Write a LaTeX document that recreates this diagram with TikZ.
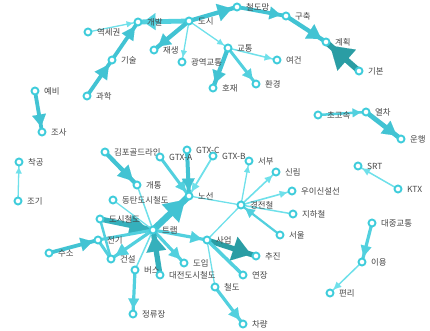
\documentclass[tikz,border=0pt]{standalone}
\usepackage{fontspec}
\newfontfamily\kr{Noto Sans CJK KR}
\usetikzlibrary{arrows.meta,decorations.markings,backgrounds}
\definecolor{c1}{HTML}{6FE0EA}
\definecolor{c2}{HTML}{52D0DE}
\definecolor{c3}{HTML}{42C3D3}
\definecolor{c4}{HTML}{2A9DA4}
\definecolor{c5}{HTML}{35B0BC}
\definecolor{cc}{HTML}{3FCCDB}
\definecolor{txt}{HTML}{444444}
\begin{document}
\begin{tikzpicture}[x=1pt,y=-1pt,
  v/.style={circle, draw=cc, fill=white, line width=1.9pt, minimum size=7pt, inner sep=0pt},
  lbl/.style={font=\kr\fontsize{8.4}{10}\selectfont, text=txt, inner sep=0pt},
  every label/.style={lbl},
  label distance=4.5pt,
  e/.style n args={4}{draw=#1, line width=#2, postaction={decorate},
    decoration={markings, mark=at position -5.5pt with {\arrow[#1, line width=0.01pt]{Triangle[length=#3, width=#4]}}}},
  pl/.style n args={2}{draw=#1, line width=#2}]
\useasboundingbox (0,0) rectangle (430,331);
% nodes
\node[v, label=right:역세권] (yeok) at (88,32) {};
\node[v, label=right:개발] (gaebal) at (138,22) {};
\node[v, label=right:도시] (dosi) at (189,21) {};
\node[v, label=right:재생] (jaesaeng) at (154,50) {};
\node[v, label=right:광역교통] (gwangyeok) at (182,62) {};
\node[v, label=right:기술] (gisul) at (112,60) {};
\node[v, label=right:과학] (gwahak) at (87,96) {};
\node[v, label=right:예비] (yebi) at (35,91) {};
\node[v, label=right:조사] (josa) at (42,132) {};
\node[v, label=right:철도망] (cheoldomang) at (237,7) {};
\node[v, label=right:구축] (guchuk) at (286,16) {};
\node[v, label=right:계획] (gyehoek) at (326,42) {};
\node[v, label=right:기본] (gibon) at (359,71) {};
\node[v, label=right:교통] (gyotong) at (228,48) {};
\node[v, label=right:여건] (yeogeon) at (277,60) {};
\node[v, label=right:호재] (hojae) at (213,88) {};
\node[v, label=right:환경] (hwangyeong) at (256,84) {};
\node[v, label=right:초고속] (chogosok) at (318,115) {};
\node[v, label=right:열차] (yeolcha) at (366,112) {};
\node[v, label=right:운행] (unhaeng) at (401,139) {};
\node[v, label=right:SRT] (srt) at (358,166) {};
\node[v, label=right:KTX] (ktx) at (398,189) {};
\node[v, label=right:착공] (chakgong) at (19,162) {};
\node[v, label=right:조기] (jogi) at (18,201) {};
\node[v, label=right:김포골드라인] (gimpo) at (105,152) {};
\node[v, label=right:GTX-A] (gtxa) at (160,157) {};
\node[v, label=right:GTX-C] (gtxc) at (187,150) {};
\node[v, label=right:GTX-B] (gtxb) at (213,156) {};
\node[v, label=right:서부] (seobu) at (249,161) {};
\node[v, label=right:신림] (sillim) at (276,172) {};
\node[v, label=right:개통] (gaetong) at (137,185) {};
\node[v, label=right:노선] (noseon) at (189,196) {};
\node[v, label=right:동탄도시철도] (dongtan) at (113,200) {};
\node[v, label=right:경전철] (gyeongjeon) at (241,205) {};
\node[v, label=right:우이신설선] (ui) at (292,191) {};
\node[v, label=right:지하철] (jihacheol) at (293,214) {};
\node[v, label=right:서울] (seoul) at (280,235) {};
\node[v, label=right:도시철도] (dosicheol) at (100,219) {};
\node[v, label=right:트램] (tram) at (153,230) {};
\node[v, label=right:전기] (jeongi) at (98,240) {};
\node[v, label=right:수소] (suso) at (49,253) {};
\node[v, label=right:건설] (geonseol) at (111,259) {};
\node[v, label=right:버스] (beoseu) at (135,270) {};
\node[v, label=right:대전도시철도] (daejeon) at (160,275) {};
\node[v, label=right:도입] (doip) at (184,263) {};
\node[v, label=right:정류장] (jeongryu) at (133,314) {};
\node[v, label=right:사업] (saeop) at (207,240) {};
\node[v, label=right:추진] (chujin) at (256,256) {};
\node[v, label=right:연장] (yeonjang) at (243,275) {};
\node[v, label=right:철도] (cheoldo) at (215,287) {};
\node[v, label=right:차량] (charyang) at (243,324) {};
\node[v, label=right:대중교통] (daejung) at (372,223) {};
\node[v, label=right:이용] (iyong) at (362,262) {};
\node[v, label=right:편리] (pyeonri) at (330,293) {};
% edges
\begin{scope}[on background layer]
\draw[e={c3}{3.8pt}{14pt}{15pt}] (gwahak.center) -- (gisul.center);
\draw[e={c3}{3.8pt}{13pt}{14pt}] (gisul.center) -- (gaebal.center);
\draw[e={c1}{1.3pt}{6pt}{6pt}] (yeok.center) -- (gaebal.center);
\draw[e={c2}{4.8pt}{12pt}{17pt}] (dosi.center) -- (gaebal.center);
\draw[e={c3}{4.3pt}{14pt}{18pt}] (dosi.center) -- (cheoldomang.center);
\draw[e={c3}{3.8pt}{11pt}{13pt}] (cheoldomang.center) -- (guchuk.center);
\draw[e={c3}{4.3pt}{14pt}{17pt}] (guchuk.center) -- (gyehoek.center);
\draw[e={c4}{5.8pt}{22pt}{28pt}] (gibon.center) -- (gyehoek.center);
\draw[e={c3}{4.3pt}{12pt}{14pt}] (dosi.center) -- (jaesaeng.center);
\draw[e={c1}{1.3pt}{6pt}{6pt}] (dosi.center) -- (gwangyeok.center);
\draw[e={c1}{1.3pt}{6pt}{6pt}] (dosi.center) -- (gyotong.center);
\draw[e={c1}{1.5pt}{7pt}{7pt}] (gyotong.center) -- (yeogeon.center);
\draw[e={c3}{4.3pt}{12pt}{14pt}] (gyotong.center) -- (hojae.center);
\draw[e={c2}{3pt}{10pt}{11pt}] (gyotong.center) -- (hwangyeong.center);
\draw[e={c3}{3.8pt}{12pt}{14pt}] (yebi.center) -- (josa.center);
\draw[e={c1}{1.3pt}{6pt}{6pt}] (jogi.center) -- (chakgong.center);
\draw[e={c2}{2.5pt}{8pt}{9pt}] (chogosok.center) -- (yeolcha.center);
\draw[e={c3}{4.8pt}{14pt}{16pt}] (yeolcha.center) -- (unhaeng.center);
\draw[e={c1}{1.5pt}{7pt}{7pt}] (ktx.center) -- (srt.center);
\draw[e={c2}{3.2pt}{11pt}{11pt}] (daejung.center) -- (iyong.center);
\draw[e={c1}{1.5pt}{7pt}{7pt}] (iyong.center) -- (pyeonri.center);
\draw[e={c3}{4.3pt}{15pt}{16pt}] (gimpo.center) -- (gaetong.center);
\draw[e={c2}{3pt}{10pt}{11pt}] (gtxa.center) -- (noseon.center);
\draw[e={c3}{4pt}{12pt}{13pt}] (gtxc.center) -- (noseon.center);
\draw[e={c1}{1.8pt}{8pt}{8pt}] (gtxb.center) -- (noseon.center);
\draw[e={c3}{6.5pt}{20pt}{25pt}] (tram.center) -- (noseon.center);
\draw[pl={c1}{1.3pt}] (noseon.center) -- (gyeongjeon.center);
\draw[e={c1}{1.3pt}{6pt}{6pt}] (gyeongjeon.center) -- (seobu.center);
\draw[e={c1}{1.6pt}{7pt}{7pt}] (gyeongjeon.center) -- (sillim.center);
\draw[e={c1}{1.6pt}{7pt}{7pt}] (gyeongjeon.center) -- (ui.center);
\draw[pl={c1}{1.5pt}] (gyeongjeon.center) -- (jihacheol.center);
\draw[e={c2}{2.2pt}{9pt}{10pt}] (seoul.center) -- (gyeongjeon.center);
\draw[pl={c1}{1.3pt}] (gyeongjeon.center) -- (saeop.center);
\draw[e={c2}{3.2pt}{11pt}{12pt}] (tram.center) -- (saeop.center);
\draw[e={c4}{5.3pt}{18pt}{25pt}] (saeop.center) -- (chujin.center);
\draw[pl={c2}{3.5pt}] (saeop.center) -- (yeonjang.center);
\draw[pl={c1}{1.3pt}] (saeop.center) -- (cheoldo.center);
\draw[e={c2}{3.2pt}{11pt}{12pt}] (cheoldo.center) -- (charyang.center);
\draw[e={c2}{3.2pt}{11pt}{12pt}] (tram.center) -- (doip.center);
\draw[e={c5}{5.3pt}{16pt}{20pt}] (daejeon.center) -- (tram.center);
\draw[pl={c1}{1.5pt}] (tram.center) -- (beoseu.center);
\draw[e={c2}{3.2pt}{10pt}{11pt}] (beoseu.center) -- (jeongryu.center);
\draw[e={c2}{3.2pt}{12pt}{13pt}] (tram.center) -- (geonseol.center);
\draw[e={c5}{5.3pt}{18pt}{21pt}] (dosicheol.center) -- (tram.center);
\draw[e={c3}{3.8pt}{12pt}{14pt}] (suso.center) -- (jeongi.center);
\draw[pl={c2}{3pt}] (jeongi.center) -- (tram.center);
\draw[pl={c2}{3pt}] (jeongi.center) -- (geonseol.center);
\draw[pl={c2}{2.5pt}] (dosicheol.center) -- (geonseol.center);
\draw[pl={c1}{1.5pt}] (gaetong.center) -- (tram.center);
\draw[pl={c1}{1.3pt}] (dongtan.center) -- (tram.center);
\end{scope}
\end{tikzpicture}
\end{document}
